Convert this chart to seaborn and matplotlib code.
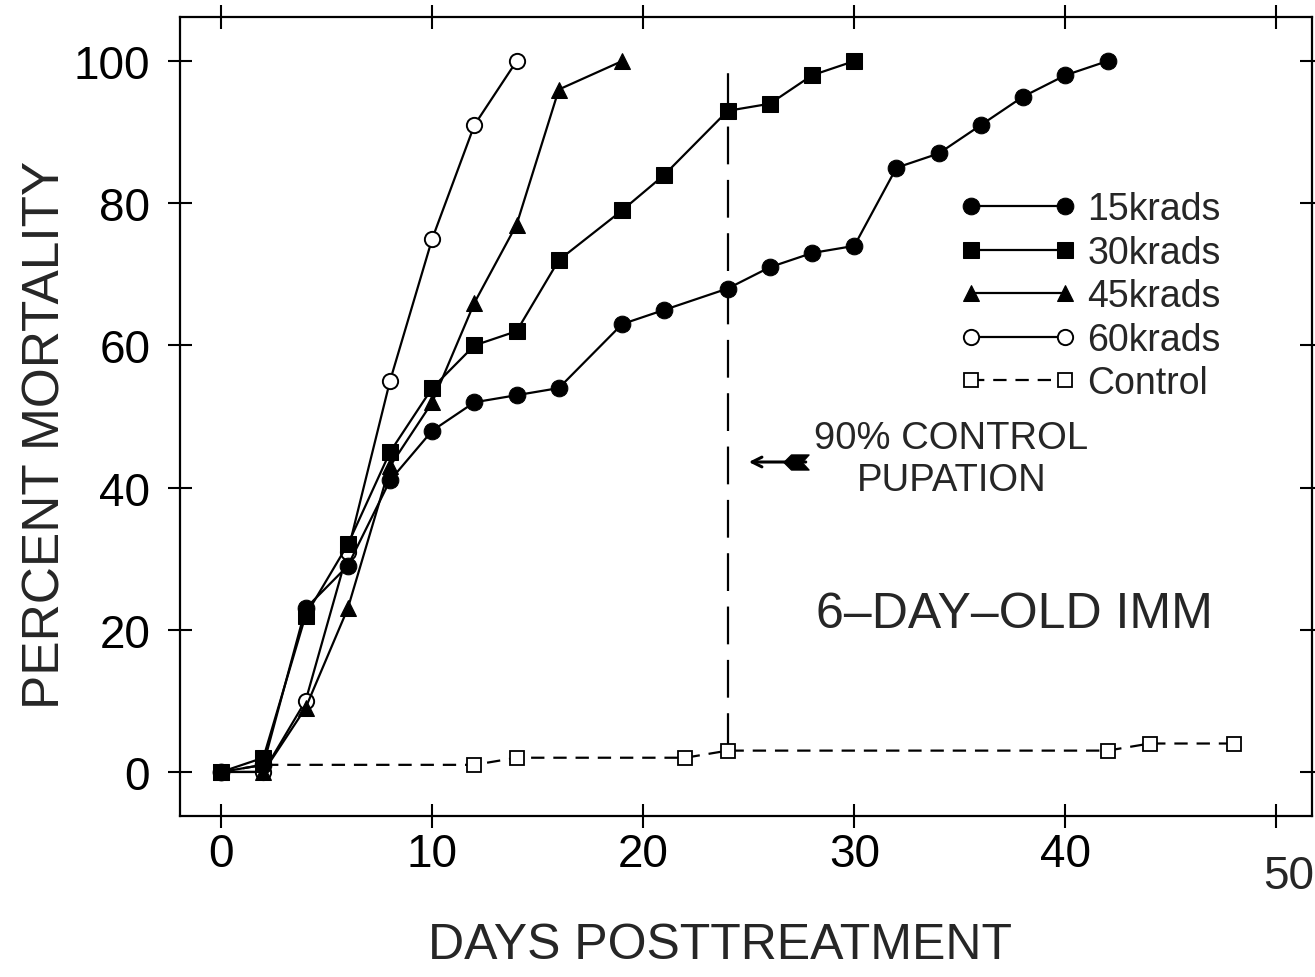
import matplotlib
matplotlib.use("Agg")
import matplotlib.pyplot as plt
import seaborn as sns

# ---------------- data ----------------
days_15 = [0, 2, 4, 6, 8, 10, 12, 14, 16, 19, 21, 24, 26, 28, 30, 32, 34, 36, 38, 40, 42]
mort_15 = [0, 1, 23, 29, 41, 48, 52, 53, 54, 63, 65, 68, 71, 73, 74, 85, 87, 91, 95, 98, 100]

days_30 = [0, 2, 4, 6, 8, 10, 12, 14, 16, 19, 21, 24, 26, 28, 30]
mort_30 = [0, 2, 22, 32, 45, 54, 60, 62, 72, 79, 84, 93, 94, 98, 100]

days_45 = [0, 2, 4, 6, 8, 10, 12, 14, 16, 19]
mort_45 = [0, 0, 9, 23, 43, 52, 66, 77, 96, 100]

days_60 = [0, 2, 4, 6, 8, 10, 12, 14]
mort_60 = [0, 0, 10, 31, 55, 75, 91, 100]

days_ctrl = [0, 2, 12, 14, 22, 24, 42, 44, 48]
mort_ctrl = [0, 1, 1, 2, 2, 3, 3, 4, 4]

series_labels = ["15krads", "30krads", "45krads", "60krads", "Control"]
x_ticks = [0, 10, 20, 30, 40, 50]
y_ticks = [0, 20, 40, 60, 80, 100]

pupation_day = 24
pupation_span = [3, 100]
arrow_y = 43.6
arrow_from, arrow_to = 27.7, 25.0

# ---------------- style ----------------
sns.set_style("ticks")
plt.rcParams["font.family"] = ["Liberation Sans", "DejaVu Sans"]

fig = plt.figure(figsize=(13.15, 9.78), dpi=100)
ax = fig.add_axes([0.1369, 0.1646, 0.861, 0.817])

lw = 1.6
# control first (drawn underneath)
sns.lineplot(x=days_ctrl, y=mort_ctrl, ax=ax, color="black", lw=1.6,
             linestyle=(0, (6, 4)), marker="s", markersize=9.5,
             markerfacecolor="white", markeredgecolor="black",
             markeredgewidth=1.3, label="Control", zorder=2)
sns.lineplot(x=days_60, y=mort_60, ax=ax, color="black", lw=lw,
             marker="o", markersize=11, markerfacecolor="white",
             markeredgecolor="black", markeredgewidth=1.4,
             label="60krads", zorder=3)
sns.lineplot(x=days_45, y=mort_45, ax=ax, color="black", lw=lw,
             marker="^", markersize=11, markerfacecolor="black",
             markeredgecolor="black", label="45krads", zorder=4)
sns.lineplot(x=days_30, y=mort_30, ax=ax, color="black", lw=lw,
             marker="s", markersize=11, markerfacecolor="black",
             markeredgecolor="black", label="30krads", zorder=5)
sns.lineplot(x=days_15, y=mort_15, ax=ax, color="black", lw=lw,
             marker="o", markersize=12, markerfacecolor="black",
             markeredgecolor="black", label="15krads", zorder=6)

# 90% control pupation reference line
ax.plot([pupation_day, pupation_day], pupation_span, color="black", lw=1.6,
        linestyle=(0, (17, 7)), zorder=1)

# arrow with fletched tail
ax.annotate("", xy=(arrow_to, arrow_y), xytext=(arrow_from, arrow_y),
            arrowprops=dict(arrowstyle="->,head_length=0.7,head_width=0.35",
                            lw=2.2, color="black", shrinkA=0, shrinkB=0))
fletch = [(-1, 0), (-0.4, 0.6), (1, 0.6), (0.45, 0), (1, -0.6), (-0.4, -0.6), (-1, 0)]
ax.plot([arrow_from - 0.45], [arrow_y], marker=fletch, markersize=18,
        color="black", linestyle="none", zorder=7)

ax.text(34.6, 44.0, "90% CONTROL\nPUPATION", ha="center", va="center",
        multialignment="center", fontsize=27.5, linespacing=1.2)
ax.text(37.6, 22.2, "6\u2013DAY\u2013OLD IMM", ha="center", va="center",
        fontsize=36)

# axes limits / ticks
ax.set_xlim(-1.95, 51.7)
ax.set_ylim(-6.2, 106.2)
ax.set_xticks(x_ticks)
ax.set_yticks(y_ticks)
ax.set_xticklabels([str(t) for t in x_ticks[:-1]] + [""])
ax.set_yticklabels([str(t) for t in y_ticks])
ax.tick_params(axis="both", direction="inout", length=17, width=1.5,
               top=True, right=True, labelsize=33, colors="black")
ax.tick_params(axis="x", pad=3)
ax.tick_params(axis="y", pad=13)
for s in ax.spines.values():
    s.set_visible(True)
    s.set_linewidth(1.6)
    s.set_color("black")

# last x tick label sits lower and to the right in the original
ax.annotate(str(x_ticks[-1]), xy=(x_ticks[-1], 0),
            xycoords=ax.get_xaxis_transform(), xytext=(9, -27),
            textcoords="offset points", ha="center", va="top", fontsize=33,
            annotation_clip=False)

ax.set_xlabel("DAYS POSTTREATMENT", fontsize=36, va="top")
ax.set_ylabel("PERCENT MORTALITY", fontsize=37)
ax.xaxis.set_label_coords(0.477, -0.133)
ax.yaxis.set_label_coords(-0.097, 0.478)

# legend
handles, labels = ax.get_legend_handles_labels()
order = [labels.index(l) for l in series_labels]
leg = ax.legend([handles[i] for i in order], [labels[i] for i in order],
                loc="upper left", bbox_to_anchor=(0.689, 0.782),
                frameon=False, fontsize=27, numpoints=2, handlelength=3.1,
                handletextpad=0.3, labelspacing=0.2, borderpad=0,
                borderaxespad=0)

fig.savefig("out.png", dpi=100)
